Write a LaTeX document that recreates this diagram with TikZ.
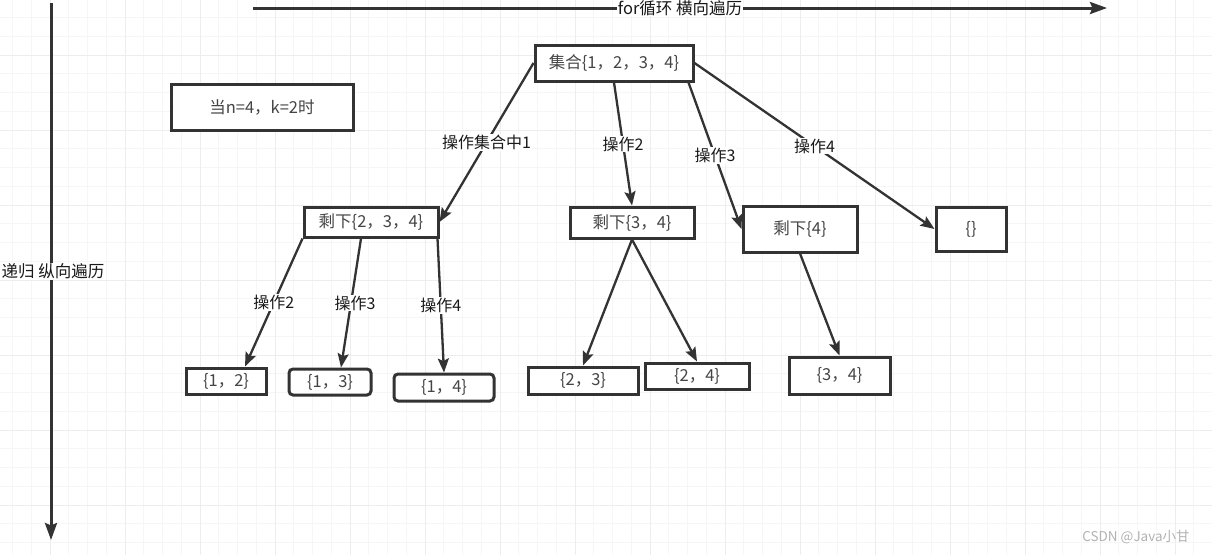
\documentclass[tikz,border=0pt]{standalone}
\usepackage{fontspec}
\setmainfont{Noto Sans CJK SC}
\usepackage{tikz}
\usetikzlibrary{arrows.meta}
\definecolor{ink}{HTML}{333333}
\definecolor{txt}{HTML}{454545}
\newcommand{\tsize}{\fontsize{16.5}{18}\selectfont}
\newcommand{\lsize}{\fontsize{16}{18}\selectfont}
\newcommand{\bw}{3pt}
\newcommand{\ew}{2.3pt}

\tikzset{
    gridminor/.style = {draw=gray!7, line width=1pt},
    gridmajor/.style = {draw=gray!14, line width=1pt},
    box/.style = {draw=ink, line width=\bw, fill=white, text=txt, inner sep=0pt, font=\tsize},
    rbox/.style = {box, rounded corners=4pt},
    edge/.style = {draw=ink, line width=\ew, -{Stealth[length=14pt,width=11pt,inset=2.5pt]}},
    axis/.style = {draw=ink, line width=3pt, -{Stealth[length=17pt,width=12pt,inset=2.5pt]}},
    lab/.style = {fill=white, text=black!90, inner sep=1pt, font=\lsize}
}

\begin{document}
\begin{tikzpicture}[x=1pt, y=-1pt]
        \useasboundingbox (0,0) rectangle (1212,555);
        \fill[white] (0,0) rectangle (1212,555);
        
        \foreach \i in {0,...,63}
            \draw[gridminor] ({12.5+18.75*\i},0) -- ({12.5+18.75*\i},555);
        \foreach \i in {0,...,28}
            \draw[gridminor] (0,{17.5+18.75*\i}) -- (1212,{17.5+18.75*\i});
        \foreach \i in {0,...,15}
            \draw[gridmajor] ({50+75*\i},0) -- ({50+75*\i},555);
        \foreach \i in {0,...,6}
            \draw[gridmajor] (0,{55+75*\i}) -- (1212,{55+75*\i});
        
        \coordinate (fortail) at (253,8);
        \coordinate (forhead) at (1107,8);
        \coordinate (rectail) at (51,3);
        \coordinate (rechead) at (51,540);
        
        \draw[axis] (fortail) -- node[lab, font=\fontsize{16.5}{18}\selectfont, inner sep=0.5pt] {for循环 横向遍历} (forhead);
        \draw[axis] (rectail) -- node[lab, font=\fontsize{16.5}{18}\selectfont, inner sep=0.5pt, xshift=2pt] {递归 纵向遍历} (rechead);
        
        \node[box, minimum width=182pt, minimum height=46pt] (cond) at (262,107) {当n=4，k=2时};
        
        \node[box, minimum width=158pt, minimum height=36pt] (root) at (614,63) {集合\{1，2，3，4\}};
        
        \node[box, minimum width=134pt, minimum height=30pt] (r234) at (371,222) {剩下\{2，3，4\}};
        \node[box, minimum width=124pt, minimum height=31pt] (r34) at (632,222.5) {剩下\{3，4\}};
        \node[box, minimum width=114pt, minimum height=46pt] (r4) at (800,229) {剩下\{4\}};
        \node[box, minimum width=70pt, minimum height=44pt] (empty) at (971,229) {\{\}};
        
        \node[box, minimum width=80pt, minimum height=26pt] (s12) at (226,381) {\{1，2\}};
        \node[rbox, minimum width=82pt, minimum height=26pt] (s13) at (330,382) {\{1，3\}};
        \node[rbox, minimum width=100pt, minimum height=27pt] (s14) at (444,387.5) {\{1，4\}};
        \node[box, minimum width=110pt, minimum height=27pt] (s23) at (583,380.5) {\{2，3\}};
        \node[box, minimum width=104pt, minimum height=26pt] (s24) at (697,376) {\{2，4\}};
        \node[box, minimum width=101pt, minimum height=37pt] (s34) at (839.5,375.5) {\{3，4\}};
        
        \draw[edge] (root.west) -- node[lab] {操作集合中1} (r234.east);
        \draw[edge] (root.south) -- node[lab] {操作2} (r34.north);
        \draw[edge] ([xshift=-6pt]root.south east) -- node[lab] {操作3} (r4.west);
        \draw[edge] (root.east) -- node[lab] {操作4} (empty.west);
        
        \draw[edge] (r234.south west) -- node[lab] {操作2} ([xshift=19pt]s12.north);
        \draw[edge] ([xshift=-10pt]r234.south) -- node[lab, xshift=4pt] {操作3} ([xshift=11pt]s13.north);
        \draw[edge] ([xshift=-2pt]r234.south east) -- node[lab] {操作4} (s14.north);
        
        \draw[edge] (r34.south) -- (s23.north);
        \draw[edge] (r34.south) -- (s24.north);
        
        \draw[edge] (r4.south) -- (s34.north);
        
        \node[text=gray!60, font=\fontsize{13.5}{15}\selectfont, inner sep=0pt] (mark) at (1136,537) {CSDN @Java小甘};
        
    \end{tikzpicture}
\end{document}
